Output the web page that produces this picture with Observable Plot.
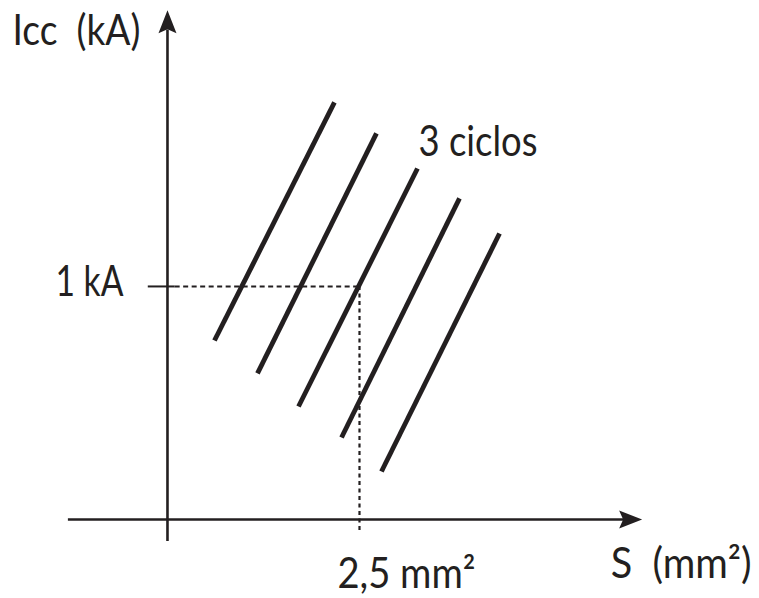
<!DOCTYPE html>
<html>
<head>
<meta charset="utf-8">
<script src="https://cdn.jsdelivr.net/npm/d3@7"></script>
<script src="https://cdn.jsdelivr.net/npm/@observablehq/plot@0.6"></script>
<style>
  html, body { margin: 0; padding: 0; background: #fff; }
  svg text { white-space: pre; }
</style>
</head>
<body>
<div id="chart"></div>
<script>
// Curves Icc (kA) vs section S (mm²) — five straight lines, one per cycle count
const curveIds   = [1, 2, 3, 4, 5];
const startS     = [0.612, 1.172, 1.706, 2.266, 2.786];
const startIcc   = [0.768, 0.627, 0.485, 0.352, 0.206];
const endS       = [2.174, 2.721, 3.255, 3.802, 4.323];
const endIcc     = [1.790, 1.657, 1.506, 1.378, 1.227];

// reference point
const refS = [2.5];
const refIcc = [1];

// text labels
const yAxisLabel = "Icc  (kA)";
const xAxisLabel = "S  (mm²)";
const refIccLabel = "1 kA";
const refSLabel = "2,5 mm²";
const curveLabel = "3 ciclos";

const ink = "#231f20";
const font = "Lato, 'Open Sans', sans-serif";

const curves = curveIds.map((id, i) => ({id, x1: startS[i], y1: startIcc[i], x2: endS[i], y2: endIcc[i]}));

const arrowHead = {
  draw(ctx) {
    ctx.moveTo(0, 0);
    ctx.lineTo(9, 23);
    ctx.lineTo(0, 19);
    ctx.lineTo(-9, 23);
    ctx.closePath();
  }
};

const textOpts = {textAnchor: "start", lineAnchor: "bottom", fontSize: 42, fontWeight: 400, fill: ink, fontFamily: font};

const chart = Plot.plot({
  width: 759,
  height: 598,
  margin: 0,
  x: {domain: [-2.174, 7.708], axis: null},
  y: {domain: [-0.339, 2.227], axis: null},
  style: {fontFamily: font, background: "#fff"},
  marks: [
    // axes
    Plot.ruleY([0], {x1: -1.29, x2: 6.0, stroke: ink, strokeWidth: 2.6}),
    Plot.ruleX([0], {y1: -0.094, y2: 2.1, stroke: ink, strokeWidth: 2.6}),
    Plot.dot([{x: 6.18, y: 0}], {x: "x", y: "y", symbol: arrowHead, fill: ink, stroke: "none", rotate: 90}),
    Plot.dot([{x: 0, y: 2.185}], {x: "x", y: "y", symbol: arrowHead, fill: ink, stroke: "none"}),
    // reference tick + dashed guides
    Plot.ruleY(refIcc, {x1: -0.25, x2: 0.1, stroke: ink, strokeWidth: 2}),
    Plot.ruleY(refIcc, {x1: 0.1, x2: refS[0], stroke: ink, strokeWidth: 2, strokeDasharray: "5,3.5"}),
    Plot.ruleX(refS, {y1: -0.047, y2: refIcc[0], stroke: ink, strokeWidth: 2.2, strokeDasharray: "4,3.5"}),
    // curves
    Plot.link(curves, {x1: "x1", y1: "y1", x2: "x2", y2: "y2", stroke: ink, strokeWidth: 4.8}),
    // labels
    Plot.text([yAxisLabel], {x: -2.018, y: 2.034, text: d => d, ...textOpts}),
    Plot.text([refIccLabel], {x: -0.573, y: 0.957, text: d => d, ...textOpts, textAnchor: "end"}),
    Plot.text([curveLabel], {x: 3.268, y: 1.558, text: d => d, ...textOpts}),
    Plot.text([refSLabel], {x: 2.214, y: -0.292, text: d => d, ...textOpts}),
    Plot.text([xAxisLabel], {x: 5.77, y: -0.249, text: d => d, ...textOpts})
  ]
});

// condense the labels to the reference's narrow typeface widths
const labelWidths = new Map([
  [yAxisLabel, 128], [refIccLabel, 68], [curveLabel, 119], [refSLabel, 138], [xAxisLabel, 141]
]);
d3.select(chart).selectAll("text").each(function() {
  const w = labelWidths.get(this.textContent);
  if (w) d3.select(this).attr("textLength", w).attr("lengthAdjust", "spacingAndGlyphs");
});

document.getElementById("chart").appendChild(chart);
</script>
</body>
</html>
